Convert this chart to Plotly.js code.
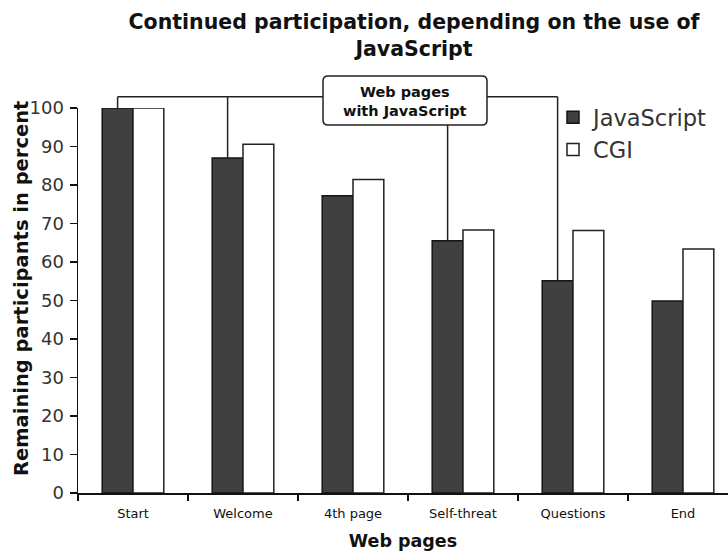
<!DOCTYPE html>
<html>
<head>
<meta charset="utf-8">
<script src="https://cdn.plot.ly/plotly-3.0.1.min.js"></script>
<style>html,body{margin:0;padding:0;background:#fff;}#chart{width:728px;height:556px;}</style>
</head>
<body>
<div id="chart"></div>
<script>
// ---- data ----
var pages = ["Start", "Welcome", "4th page", "Self-threat", "Questions", "End"];
var jsValues = [100, 87, 77.2, 65.5, 55.1, 49.9];
var cgiValues = [100, 90.6, 81.4, 68.3, 68.2, 63.4];
var seriesNames = ["JavaScript", "CGI"];
var yTicks = [0, 10, 20, 30, 40, 50, 60, 70, 80, 90, 100];
var calloutText = "Web pages<br>with JavaScript";
var calloutTargets = [0, 1, 3, 4]; // indices of pages connected to the callout

// ---- layout constants ----
var W = 728, H = 556;
var M = {l: 78, r: 0, t: 108, b: 63};
var plotW = W - M.l - M.r, plotH = H - M.t - M.b;
var bargap = 0.44;
var catPx = 110; // pixel width of one category
var xMax = -0.5 + plotW / catPx;
var yMax = 100;
function px2paperX(px) { return (px - M.l) / plotW; }
function py2paperY(py) { return (H - M.b - py) / plotH; }
var jsOffset = (1 - bargap) / 4; // centre of the first bar in a group

var fontFam = "DejaVu Sans, Verdana, sans-serif";

var traces = [
  {type: "bar", name: seriesNames[0], x: pages, y: jsValues,
   marker: {color: "#404040", line: {color: "#151515", width: 1.5}}},
  {type: "bar", name: seriesNames[1], x: pages, y: cgiValues,
   marker: {color: "#ffffff", line: {color: "#222222", width: 1.5}}}
];

var lineY = py2paperY(96.7);
var shapes = [];
var lineStyle = {color: "#222", width: 1.5};
// horizontal connector
shapes.push({type: "line", xref: "x", yref: "paper",
  x0: calloutTargets[0] - jsOffset, x1: calloutTargets[calloutTargets.length - 1] - jsOffset,
  y0: lineY, y1: lineY, line: lineStyle, layer: "above"});
calloutTargets.forEach(function (i) {
  shapes.push({type: "line", xref: "x", yref: "paper",
    x0: i - jsOffset, x1: i - jsOffset, y0: jsValues[i] / yMax, y1: lineY,
    line: lineStyle, layer: "above"});
});
// rounded callout box
(function () {
  var x0 = px2paperX(323), x1 = px2paperX(487);
  var yT = py2paperY(76), yB = py2paperY(125);
  var rx = 5 / plotW, ry = 5 / plotH;
  var p = "M" + (x0 + rx) + "," + yT +
    " L" + (x1 - rx) + "," + yT + " Q" + x1 + "," + yT + " " + x1 + "," + (yT - ry) +
    " L" + x1 + "," + (yB + ry) + " Q" + x1 + "," + yB + " " + (x1 - rx) + "," + yB +
    " L" + (x0 + rx) + "," + yB + " Q" + x0 + "," + yB + " " + x0 + "," + (yB + ry) +
    " L" + x0 + "," + (yT - ry) + " Q" + x0 + "," + yT + " " + (x0 + rx) + "," + yT + " Z";
  shapes.push({type: "path", xref: "paper", yref: "paper", path: p,
    fillcolor: "#ffffff", line: {color: "#222", width: 1.5}, layer: "above"});
})();

var layout = {
  width: W, height: H,
  margin: M,
  paper_bgcolor: "#fff", plot_bgcolor: "#fff",
  font: {family: fontFam, color: "#222"},
  title: {text: "<b>Continued participation, depending on the use of<br>JavaScript</b>",
    font: {family: fontFam, size: 20.5, color: "#111"},
    x: 414 / W, xref: "container", xanchor: "center",
    y: 1 - 29 / H, yref: "container", yanchor: "middle"},
  barmode: "group", bargap: bargap, bargroupgap: 0,
  showlegend: true,
  legend: {x: px2paperX(553), y: py2paperY(96), xanchor: "left", yanchor: "top",
    font: {family: fontFam, size: 22.5, color: "#333"}, bgcolor: "rgba(0,0,0,0)",
    traceorder: "normal", itemclick: false},
  xaxis: {type: "category", range: [-0.5, xMax], fixedrange: true,
    showline: true, linecolor: "#111", linewidth: 1.5,
    ticks: "outside", tickson: "boundaries", ticklen: 6, tickcolor: "#111", tickwidth: 1.5,
    ticklabelstandoff: 8,
    tickfont: {family: fontFam, size: 13, color: "#111"},
    showgrid: false, zeroline: false,
    title: {text: "<b>Web pages</b>", font: {family: fontFam, size: 17.5, color: "#111"}, standoff: 14}},
  yaxis: {range: [0, yMax], fixedrange: true, tickvals: yTicks,
    showline: true, linecolor: "#111", linewidth: 1.5,
    ticks: "outside", ticklen: 7, tickcolor: "#111", tickwidth: 1.5,
    ticklabelstandoff: 2,
    tickfont: {family: fontFam, size: 18, color: "#333"},
    showgrid: false, zeroline: false},
  shapes: shapes,
  annotations: [
    {xref: "paper", yref: "paper", x: px2paperX(405), y: py2paperY(101),
     xanchor: "center", yanchor: "middle", showarrow: false, align: "center",
     text: "<b>" + calloutText + "</b>", font: {family: fontFam, size: 14.5, color: "#111"}},
    {xref: "paper", yref: "paper", x: px2paperX(21), y: py2paperY(289),
     xanchor: "center", yanchor: "middle", showarrow: false, textangle: -90,
     text: "<b>Remaining participants in percent</b>", font: {family: fontFam, size: 19.5, color: "#111"}}
  ]
};

Plotly.newPlot("chart", traces, layout, {displayModeBar: false, staticPlot: true});
</script>
</body>
</html>
